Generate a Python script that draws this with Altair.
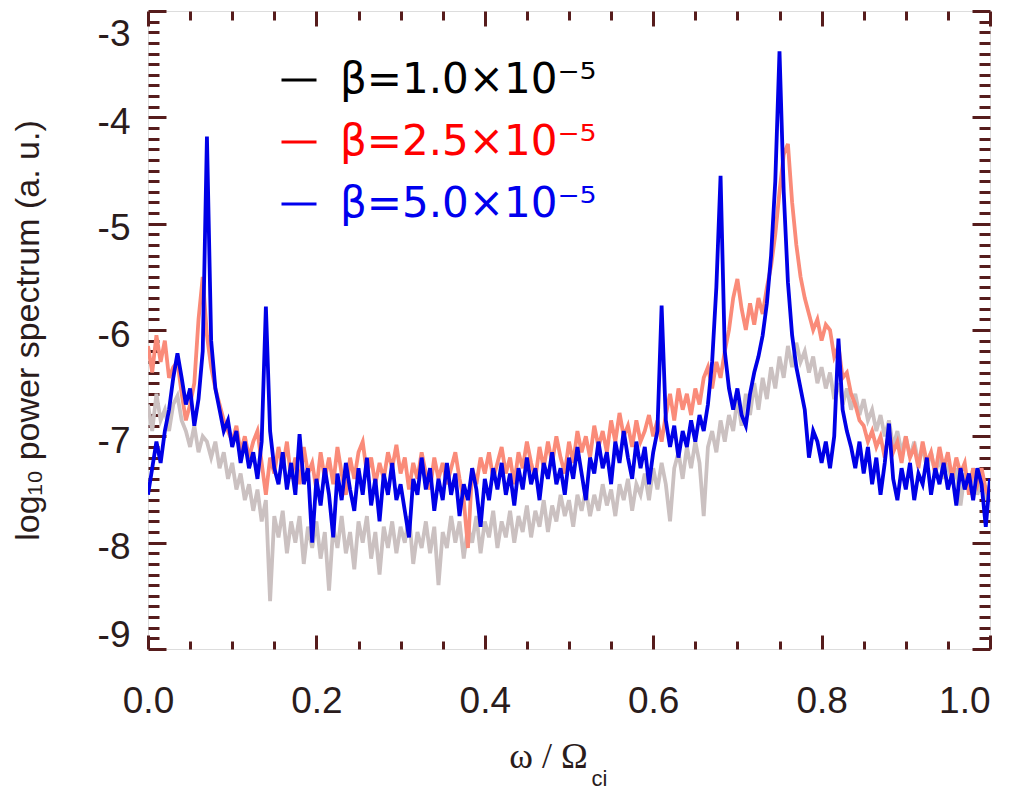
import altair as alt
import pandas as pd

# ---------------- data ----------------
omega = [round(0.005 * i, 3) for i in range(201)]  # frequency grid, omega / Omega_ci

gray_vals = [
    -6.70, -6.95, -6.60, -6.85, -6.75, -6.95, -6.70, -6.62, -6.85, -6.95,
    -7.10, -6.90, -7.15, -7.00, -7.05, -7.20, -7.05, -7.30, -7.15, -7.40,
    -7.25, -7.50, -7.35, -7.60, -7.45, -7.70, -7.50, -7.80, -7.60, -8.55,
    -7.75, -7.95, -7.70, -8.10, -7.80, -8.00, -7.75, -8.20, -7.85, -8.05,
    -7.80, -8.15, -7.90, -8.45, -7.85, -8.05, -7.75, -8.10, -7.90, -8.25,
    -7.80, -8.00, -7.75, -8.15, -7.90, -8.30, -7.85, -8.05, -7.80, -8.10,
    -7.85, -8.00, -7.75, -8.20, -7.90, -8.05, -7.80, -8.10, -7.85, -8.40,
    -7.90, -8.05, -7.75, -8.00, -7.80, -8.15, -7.85, -8.00, -7.75, -8.10,
    -7.80, -7.95, -7.70, -8.05, -7.80, -7.95, -7.70, -8.00, -7.75, -7.90,
    -7.65, -7.95, -7.70, -7.85, -7.60, -7.90, -7.65, -7.80, -7.55, -7.75,
    -7.60, -7.85, -7.55, -7.70, -7.50, -7.75, -7.55, -7.70, -7.45, -7.65,
    -7.50, -7.75, -7.45, -7.60, -7.40, -7.70, -7.45, -7.55, -7.35, -7.60,
    -7.30, -7.50, -7.25, -7.45, -7.80, -7.30, -7.15, -7.40, -7.10, -7.30,
    -7.05, -7.25, -7.75, -7.10, -6.95, -7.15, -6.85, -7.05, -6.80, -6.95,
    -6.65, -6.90, -6.60, -6.80, -6.50, -6.75, -6.45, -6.65, -6.35, -6.55,
    -6.25, -6.45, -6.15, -6.35, -6.12, -6.30, -6.20, -6.40, -6.25, -6.50,
    -6.35, -6.55, -6.40, -6.65, -6.50, -6.70, -6.55, -6.75, -6.60, -6.80,
    -6.65, -6.85, -6.75, -6.95, -6.80, -7.00, -6.85, -7.10, -6.95, -7.15,
    -7.00, -7.20, -7.05, -7.25, -7.10, -7.30, -7.15, -7.35, -7.20, -7.40,
    -7.25, -7.45, -7.30, -7.65, -7.35, -7.50, -7.30, -7.55, -7.40, -7.60,
    -7.45,
]

red_vals = [
    -6.15, -6.40, -6.05, -6.30, -6.10, -6.45, -6.35, -6.30, -6.60, -6.85,
    -6.70, -6.50, -5.90, -5.50, -6.05, -6.35, -6.55, -6.70, -6.85, -6.95,
    -7.05, -6.90, -7.15, -7.00, -7.20, -7.05, -6.95, -7.25, -7.55, -7.20,
    -7.35, -7.10, -7.30, -7.05, -7.40, -7.20, -7.45, -7.10, -7.35, -7.25,
    -7.50, -7.15, -7.40, -7.20, -7.45, -7.10, -7.35, -7.55, -7.20, -7.40,
    -7.15, -7.05, -7.35, -7.20, -7.45, -7.25, -7.40, -7.15, -7.30, -7.08,
    -7.35, -7.20, -7.50, -7.25, -7.40, -7.15, -7.35, -7.50, -7.20, -7.40,
    -7.25, -7.45, -7.30, -7.15, -7.40, -7.60, -8.05, -7.30, -7.45, -7.20,
    -7.35, -7.15, -7.40, -7.25, -7.10, -7.35, -7.20, -7.45, -7.15, -7.30,
    -7.05, -7.25, -7.40, -7.10, -7.30, -7.05, -7.25, -7.00, -7.20, -7.35,
    -7.05, -7.25, -6.95, -7.15, -7.00, -7.20, -6.90, -7.10, -6.95, -7.15,
    -6.85, -7.05, -6.78, -7.00, -6.90, -7.10, -6.85, -7.05, -6.95, -6.80,
    -7.00, -6.85, -7.05, -6.80, -6.60, -6.85, -6.55, -6.75, -6.60, -6.80,
    -6.55, -6.70, -6.45, -6.35, -6.55, -6.30, -6.45, -6.20, -6.00, -5.70,
    -5.52, -5.80, -6.00, -5.75, -5.95, -5.70, -5.85, -5.60, -5.40, -5.10,
    -4.70, -4.35, -4.25, -4.80, -5.20, -5.50, -5.70, -5.85, -6.00, -5.90,
    -6.10, -5.95, -6.00, -6.25, -6.15, -6.45, -6.40, -6.60, -6.70, -6.85,
    -6.90, -7.05, -6.95, -7.10, -7.00, -7.20, -6.95, -7.15, -7.05, -7.25,
    -7.00, -7.20, -7.10, -7.30, -7.05, -7.25, -7.15, -7.35, -7.10, -7.30,
    -7.15, -7.40, -7.20, -7.35, -7.25, -7.55, -7.30, -7.45, -7.30, -7.50,
    -7.60,
]

blue_vals = [
    -7.55, -7.30, -7.05, -7.25, -6.95, -6.75, -6.45, -6.22, -6.45, -6.70,
    -6.55, -6.90, -6.65, -6.20, -4.18, -6.10, -6.55, -6.75, -6.95, -6.85,
    -7.10, -6.95, -7.25, -7.05, -7.30, -7.15, -7.40, -7.05, -5.78, -6.95,
    -7.30, -7.45, -7.15, -7.50, -7.25, -7.55, -6.98, -7.45, -7.30, -8.00,
    -7.40, -7.65, -7.30, -7.55, -7.95, -7.35, -7.60, -7.25, -7.50, -7.70,
    -7.30, -7.55, -7.20, -7.65, -7.40, -7.80, -7.35, -7.55, -7.25, -7.60,
    -7.45, -7.70, -7.95, -7.40, -7.55, -7.20, -7.50, -7.30, -7.70, -7.40,
    -7.60, -7.25, -7.55, -7.35, -7.75, -7.45, -7.60, -7.30, -7.50, -7.85,
    -7.40, -7.60, -7.30, -7.50, -7.25, -7.55, -7.35, -7.65, -7.30, -7.50,
    -7.20, -7.45, -7.30, -7.60, -7.25, -7.40, -7.15, -7.45, -7.30, -7.55,
    -7.20, -7.40, -7.10, -7.35, -7.60, -7.20, -7.35, -7.05, -7.30, -7.15,
    -7.45, -7.05, -7.25, -6.95, -7.20, -7.40, -7.05, -7.30, -7.10, -7.45,
    -7.15, -6.95, -5.77, -6.85, -7.10, -6.90, -7.20, -6.95, -7.10, -6.85,
    -7.05, -6.80, -6.95, -6.70, -6.30, -5.60, -4.55, -6.20, -6.55, -6.75,
    -6.55, -6.80, -6.90, -6.60, -6.40, -6.25, -6.05, -5.75, -5.30, -4.60,
    -3.38, -4.70, -5.55, -6.05, -6.35, -6.55, -6.75, -7.20, -6.95, -7.05,
    -7.25, -7.05, -7.30, -7.00, -6.08, -6.75, -6.95, -7.10, -7.30, -7.05,
    -7.35, -7.10, -7.45, -7.20, -7.55, -7.25, -6.88, -7.40, -7.60, -7.30,
    -7.50, -7.25, -7.60, -7.35, -7.45, -7.20, -7.55, -7.30, -7.45, -7.25,
    -7.50, -7.35, -7.65, -7.30, -7.50, -7.35, -7.60, -7.30, -7.45, -7.85,
    -7.40,
]

labels = ["β=1.0×10⁻⁵", "β=2.5×10⁻⁵", "β=5.0×10⁻⁵"]
legend_colors = ["#000000", "#ff0000", "#0000ee"]
line_colors = ["#cbc1c1", "#fa8b79", "#0000e6"]

x_major = [0.0, 0.2, 0.4, 0.6, 0.8, 1.0]
x_minor = [0.05, 0.1, 0.15, 0.25, 0.3, 0.35, 0.45, 0.5, 0.55, 0.65, 0.7, 0.75, 0.85, 0.9, 0.95]
y_major = [-9, -8, -7, -6, -5, -4, -3]
y_minor = [round(-9 + 0.1 * k, 1) for k in range(61) if k % 10 != 0]

# ---------------- table ----------------
rows = []
for k, (lab, vals) in enumerate(zip(labels, [gray_vals, red_vals, blue_vals])):
    for xv, yv in zip(omega, vals):
        rows.append({"omega": xv, "power": yv, "series": lab, "k": k})
df = pd.DataFrame(rows)

FRAME = "#561c1c"
TXT = "#2a1c1c"
xs = alt.Scale(domain=[0, 1], nice=False, zero=False)
ys = alt.Scale(domain=[-9, -3], nice=False, zero=False)


def tick_axis(orient, values, size, **kw):
    return alt.Axis(orient=orient, values=values, tickSize=size, offset=-size,
                    domain=False, grid=False, ticks=True, tickColor=FRAME,
                    tickWidth=3, zindex=0, **kw)


x_bottom_major = tick_axis(
    "bottom", x_major, 14, labels=True, format=".1f",
    labelFont="Liberation Sans", labelFontSize=37, labelColor=TXT, labelPadding=34,
    labelFlush=False,
    labelAlign={"condition": {"test": "datum.value >= 1", "value": "right"}, "value": "center"},
    title="ω / Ω", titleFont="Liberation Serif", titleFontSize=36, titleFontWeight="normal",
    titleColor=TXT, titleX=400, titleY=121, titleBaseline="middle", titleAlign="center",
)
x_bottom_minor = tick_axis(
    "bottom", x_minor, 8, labels=False,
    title="ci", titleFont="Liberation Sans", titleFontSize=22, titleFontWeight="normal",
    titleColor=TXT, titleX=443, titleY=137, titleBaseline="middle", titleAlign="left",
)
x_top_major = tick_axis("top", x_major, 15, labels=False, title=None)
x_top_minor = tick_axis("top", x_minor, 9, labels=False, title=None)

y_left_major = tick_axis(
    "left", y_major, 18, labels=True, labelExpr="'' + datum.value",
    labelFont="Liberation Sans", labelFontSize=37, labelColor=TXT, labelPadding=18,
    labelFlush=True, labelOffset=5,
    title="log₁₀ power spectrum (a. u.)", titleFont="Liberation Sans", titleFontSize=34,
    titleFontWeight="normal", titleColor=TXT, titleX=-138, titleY=319,
    titleBaseline="middle", titleAlign="center", titleAngle=270,
)
y_left_minor = tick_axis("left", y_minor, 11, labels=False, title=None)
y_right_major = tick_axis("right", y_major, 18, labels=False, title=None)
y_right_minor = tick_axis("right", y_minor, 11, labels=False, title=None)


def series_layer(k, xaxis, yaxis):
    return (
        alt.Chart(df)
        .transform_filter(alt.datum.k == k)
        .mark_line(color=line_colors[k], strokeWidth=3.8, clip=True)
        .encode(
            x=alt.X("omega:Q", scale=xs, axis=xaxis),
            y=alt.Y("power:Q", scale=ys, axis=yaxis),
        )
    )


legend_layer = (
    alt.Chart(df)
    .mark_line(opacity=0, clip=True)
    .encode(
        x=alt.X("omega:Q", scale=xs, axis=x_top_minor),
        y=alt.Y("power:Q", scale=ys, axis=y_right_minor),
        color=alt.Color(
            "series:N",
            scale=alt.Scale(domain=labels, range=legend_colors),
            legend=alt.Legend(
                title=None, orient="none", legendX=130, legendY=48, direction="vertical",
                symbolType="stroke", symbolSize=1225, symbolStrokeWidth=3, symbolOpacity=1,
                labelFont="DejaVu Sans", labelFontSize=42, labelOffset=20, labelLimit=800,
                labelColor={"expr": "scale('color', datum.value)"},
                rowPadding=20, padding=0,
            ),
        ),
    )
)

chart = (
    alt.layer(
        series_layer(0, x_bottom_major, y_left_major),
        series_layer(1, x_bottom_minor, y_left_minor),
        series_layer(2, x_top_major, y_right_major),
        legend_layer,
    )
    .resolve_axis(x="independent", y="independent")
    .properties(
        width=842, height=638,
        padding={"left": 148, "top": 11, "right": 33, "bottom": 142},
        autosize=alt.AutoSizeParams(type="none"),
    )
    .configure_view(stroke=FRAME, strokeWidth=3.5)
    .configure(background="white")
)

chart.save("out.html", embed_options={"renderer": "svg", "actions": False})
